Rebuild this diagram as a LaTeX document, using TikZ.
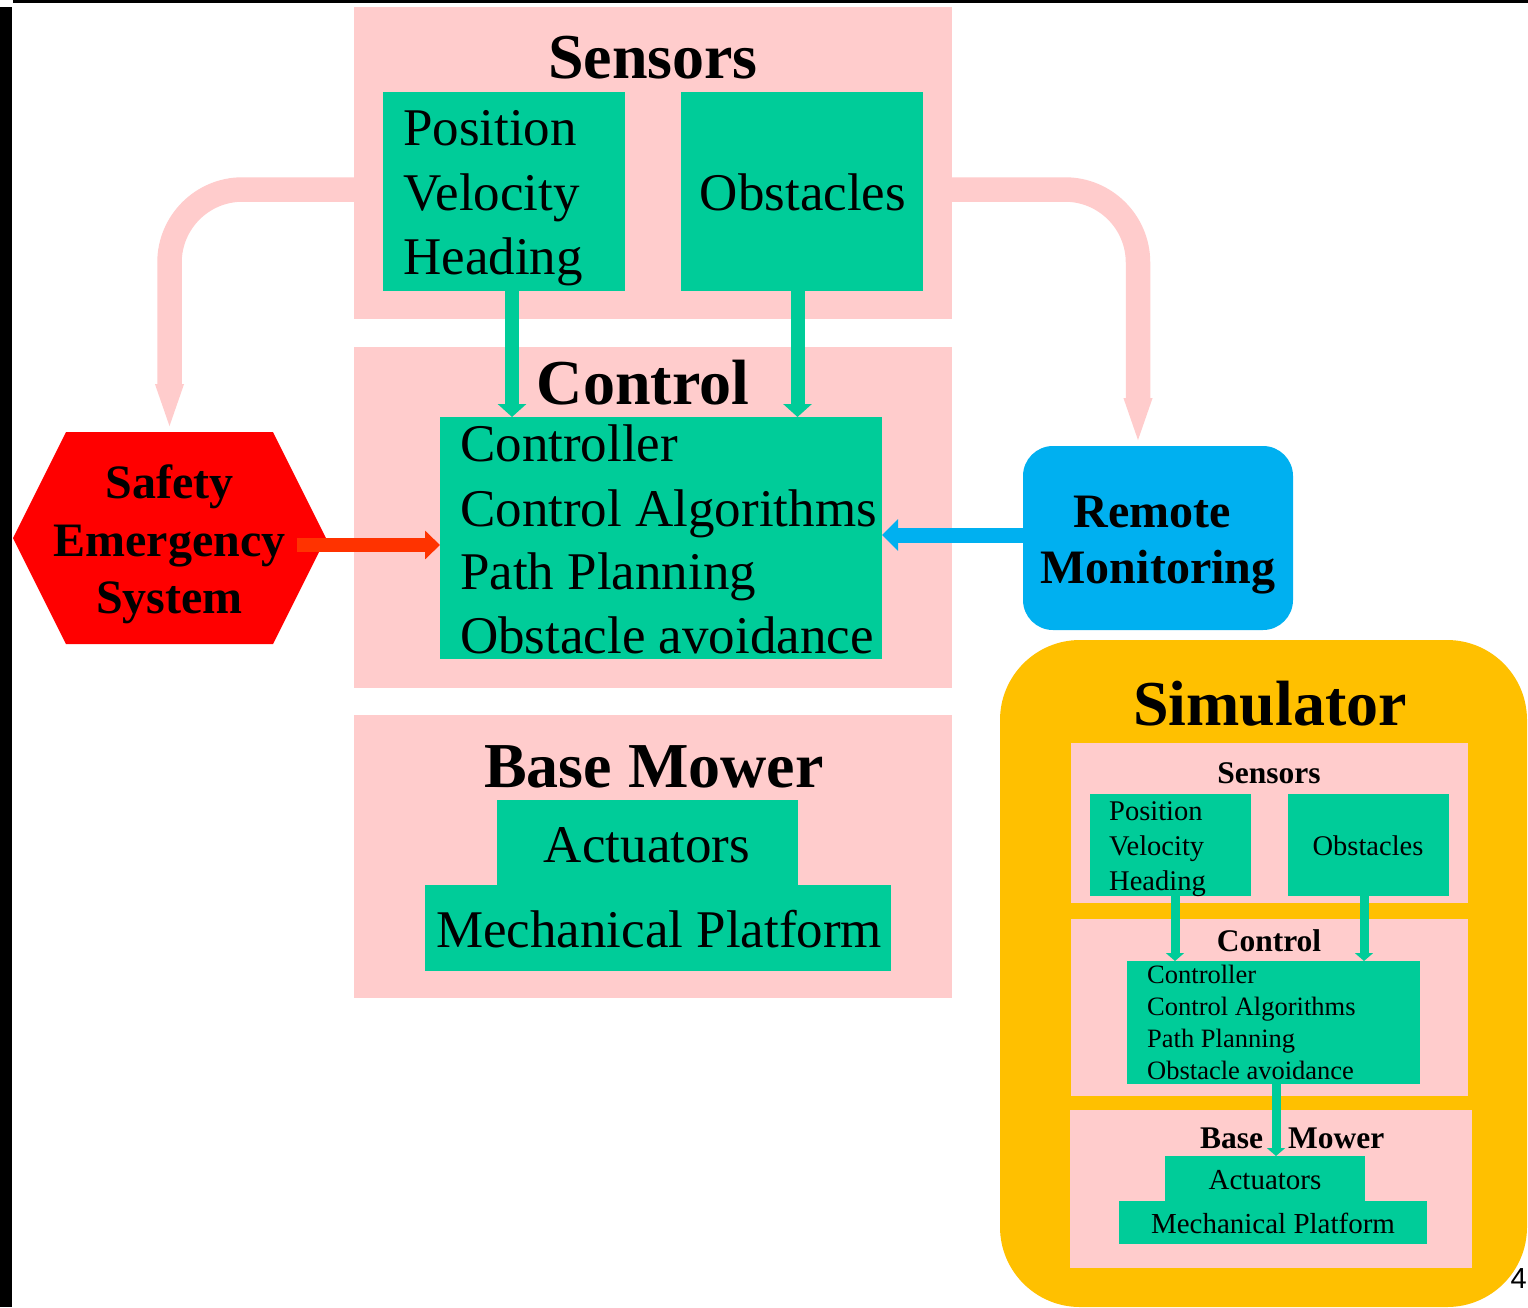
\documentclass[tikz,border=0pt]{standalone}
\usepackage{fontspec}
\setmainfont{Liberation Serif}
\newfontfamily\pagenumfont{Liberation Sans}
\usetikzlibrary{arrows.meta}
\definecolor{panelpink}{HTML}{FFCCCC}
\definecolor{itemgreen}{HTML}{00CC99}
\definecolor{simorange}{HTML}{FFC000}
\definecolor{monblue}{HTML}{00B0F0}
\definecolor{safetyred}{HTML}{FF0000}
\definecolor{alertred}{HTML}{FF3300}
\begin{document}
\begin{tikzpicture}[x=1pt,y=-1pt,
  panel/.style={fill=panelpink, inner sep=0pt, outer sep=0pt, anchor=north west},
  item/.style={fill=itemgreen, inner sep=0pt, outer sep=0pt, anchor=north west},
  bigtitle/.style={font=\fontsize{64}{64}\selectfont\bfseries, inner sep=0pt, anchor=base},
  bigitem/.style={font=\fontsize{53}{53}\selectfont, inner sep=0pt, anchor=base west},
  bigitemc/.style={font=\fontsize{53}{53}\selectfont, inner sep=0pt, anchor=base},
  sidetext/.style={font=\fontsize{48}{48}\selectfont\bfseries, inner sep=0pt, anchor=base},
  smalltitle/.style={font=\fontsize{31.5}{31.5}\selectfont\bfseries, inner sep=0pt, anchor=base},
  smallsens/.style={font=\fontsize{28.5}{28.5}\selectfont, inner sep=0pt, anchor=base west},
  smallctrl/.style={font=\fontsize{26.5}{26.5}\selectfont, inner sep=0pt, anchor=base west},
  smallbase/.style={font=\fontsize{29}{29}\selectfont, inner sep=0pt, anchor=base},
  feed/.style={line width=24.5pt, draw=panelpink, rounded corners=73pt,
    -{Triangle[length=48pt,width=24.5pt]}},
  bigflow/.style={line width=14pt, draw=itemgreen, -{Triangle[length=13pt,width=28pt]}},
  smallflow/.style={line width=9pt, draw=itemgreen, -{Triangle[length=8pt,width=18pt]}},
  alertflow/.style={line width=14pt, draw=alertred, -{Triangle[length=15pt,width=28pt]}},
  monflow/.style={line width=15pt, draw=monblue, -{Triangle[length=16pt,width=31pt]}}]

\useasboundingbox (0,0) rectangle (1528,1307);
\fill[white] (0,0) rectangle (1528,1307);

% frame edges
\fill[black] (13,0) rectangle (1528,2.5);
\fill[black] (0,7) rectangle (12,1307);

% ---------- main architecture ----------
\node[panel, minimum width=598pt, minimum height=312pt] (sensors) at (354,7) {};
\node[item, minimum width=242pt, minimum height=199pt] (pos) at (383,92) {};
\node[item, minimum width=242pt, minimum height=199pt] (obs) at (681,92) {};

\node[panel, minimum width=598pt, minimum height=341pt] (control) at (354,347) {};
\node[item, minimum width=442pt, minimum height=242pt] (ctrl) at (440,417) {};

\node[panel, minimum width=598pt, minimum height=283pt] (base) at (354,715) {};
\node[item, minimum width=301pt, minimum height=85pt] (act) at (497,800) {};
\node[item, minimum width=466pt, minimum height=86pt] (mech) at (425,885) {};

\node[bigtitle] (t-sensors) at (653,78) {Sensors};
\node[bigitem] (t-pos) at (403,145) {Position};
\node[bigitem] (t-vel) at (403,210) {Velocity};
\node[bigitem] (t-head) at (403,274) {Heading};
\node[bigitemc] (t-obs) at (803,210) {Obstacles};

\node[bigtitle] (t-control) at (643,404) {Control};
\node[bigitem] (t-c1) at (460,461) {Controller};
\node[bigitem] (t-c2) at (460,526) {Control Algorithms};
\node[bigitem] (t-c3) at (460,589) {Path Planning};
\node[bigitem] (t-c4) at (460,653) {Obstacle avoidance};

\node[bigtitle] (t-base) at (654,787) {Base Mower};
\node[bigitemc] (t-act) at (647,862) {Actuators};
\node[bigitemc] (t-mech) at (659,947) {Mechanical Platform};

% safety system (hexagon)
\node[inner sep=0pt, outer sep=0pt, minimum width=313pt, minimum height=212pt,
  path picture={\fill[safetyred] (path picture bounding box.west)
    -- ([xshift=53pt]path picture bounding box.north west)
    -- ([xshift=-53pt]path picture bounding box.north east)
    -- (path picture bounding box.east)
    -- ([xshift=-53pt]path picture bounding box.south east)
    -- ([xshift=53pt]path picture bounding box.south west) -- cycle;}]
  (safety) at (169.5,538) {};
\node[sidetext] (t-saf1) at (169.5,498) {Safety};
\node[sidetext] (t-saf2) at (169.5,556) {Emergency};
\node[sidetext] (t-saf3) at (169.5,613) {System};

% remote monitoring
\node[fill=monblue, rounded corners=30pt, inner sep=0pt, outer sep=0pt, anchor=north west,
  minimum width=270pt, minimum height=184pt] (remote) at (1023,446) {};
\node[sidetext] (t-rem1) at (1152,527) {Remote};
\node[sidetext] (t-rem2) at (1158,583) {Monitoring};

% connectors
\draw[feed] ([yshift=-26.5pt]sensors.west) -| (safety.north);
\draw[feed] ([yshift=-26.5pt]sensors.east) -| ([xshift=-20pt]remote.north);
\draw[bigflow] ([xshift=8pt]pos.south) -- ([xshift=8pt]pos.south |- ctrl.north);
\draw[bigflow] ([xshift=-4.5pt]obs.south) -- ([xshift=-4.5pt]obs.south |- ctrl.north);
\draw[alertflow] ([xshift=-29pt,yshift=-7pt]safety.east) -- ([yshift=-7pt]ctrl.west);
\draw[monflow] ([yshift=3pt]remote.west) -- ([yshift=3pt]ctrl.east);

% ---------- simulator ----------
\node[fill=simorange, rounded corners=80pt, inner sep=0pt, outer sep=0pt, anchor=north west,
  minimum width=527pt, minimum height=667pt] (sim) at (1000,640) {};
\node[bigtitle] (t-sim) at (1270,725) {Simulator};

\node[panel, minimum width=397pt, minimum height=160pt] (simsens) at (1071,743) {};
\node[item, minimum width=161pt, minimum height=102pt] (simpos) at (1090,794) {};
\node[item, minimum width=161pt, minimum height=102pt] (simobs) at (1288,794) {};

\node[panel, minimum width=397pt, minimum height=177pt] (simctrl) at (1071,919) {};
\node[item, minimum width=293pt, minimum height=123pt] (simctrlbox) at (1127,961) {};

\node[panel, minimum width=402pt, minimum height=158pt] (simbase) at (1070,1110) {};
\node[item, minimum width=200pt, minimum height=45pt] (simact) at (1165,1156) {};
\node[item, minimum width=308pt, minimum height=43pt] (simmech) at (1119,1201) {};

\node[smalltitle] (t-ssens) at (1269,783) {Sensors};
\node[smallsens] (t-spos) at (1109,820) {Position};
\node[smallsens] (t-svel) at (1109,855) {Velocity};
\node[smallsens] (t-shead) at (1109,890) {Heading};
\node[smallbase, font=\fontsize{28.5}{28.5}\selectfont] (t-sobs) at (1368,855) {Obstacles};

\node[smalltitle] (t-sctrl) at (1269,951) {Control};
\node[smallctrl] (t-sc1) at (1147,983) {Controller};
\node[smallctrl] (t-sc2) at (1147,1015) {Control Algorithms};
\node[smallctrl] (t-sc3) at (1147,1047) {Path Planning};
\node[smallctrl] (t-sc4) at (1147,1079) {Obstacle avoidance};

\node[smalltitle, anchor=base west] (t-sbase) at (1200,1148) {Base\hspace{25pt}Mower};
\node[smallbase] (t-sact) at (1265,1189) {Actuators};
\node[smallbase] (t-smech) at (1273,1233) {Mechanical Platform};

\draw[smallflow] ([xshift=4.5pt]simpos.south) -- ([xshift=4.5pt]simpos.south |- simctrlbox.north);
\draw[smallflow] ([xshift=-4.5pt]simobs.south) -- ([xshift=-4.5pt]simobs.south |- simctrlbox.north);
\draw[smallflow] ([xshift=2.5pt]simctrlbox.south) -- ([xshift=2.5pt]simctrlbox.south |- simact.north);

% page number
\node[font=\pagenumfont\fontsize{29}{29}\selectfont, inner sep=0pt, anchor=base east] (pagenum) at (1527,1288) {4};
\end{tikzpicture}
\end{document}
